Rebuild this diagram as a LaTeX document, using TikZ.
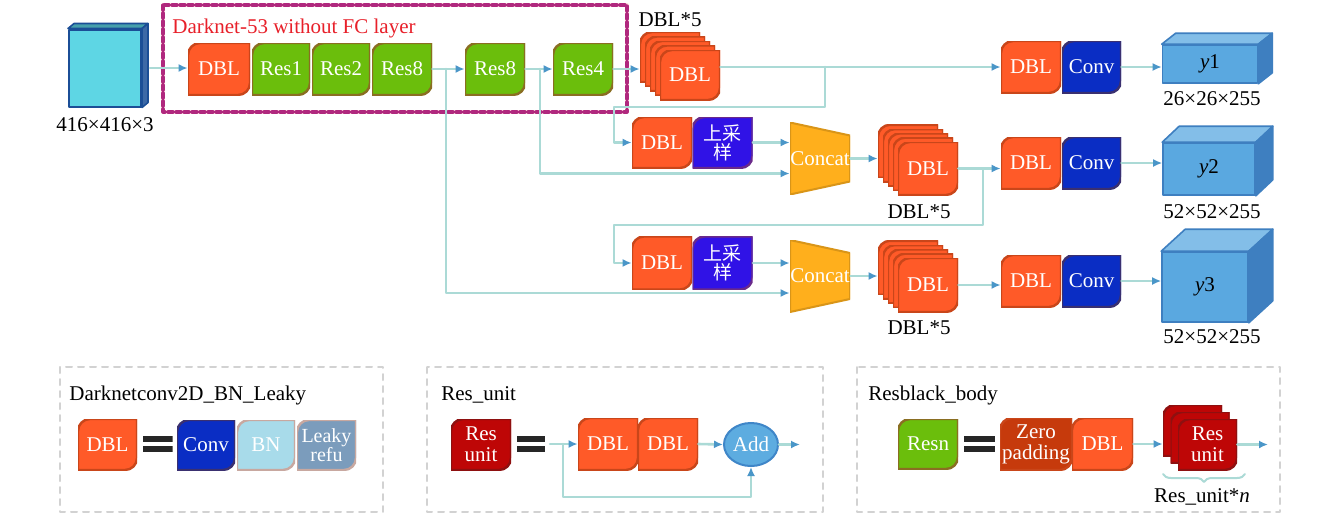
\documentclass[tikz,border=0pt]{standalone}
\usepackage{fontspec}
\setmainfont{Liberation Serif}
\newfontfamily\cjk{Noto Sans CJK SC}
\usetikzlibrary{arrows.meta, shapes.geometric, decorations.pathreplacing}

\definecolor{dblred}{HTML}{FF5A28}
\definecolor{dblline}{HTML}{C9461A}
\definecolor{resgreen}{HTML}{6BBE0C}
\definecolor{resline}{HTML}{8A6E22}
\definecolor{upblue}{HTML}{3012E6}
\definecolor{upline}{HTML}{6A2A8A}
\definecolor{convblue}{HTML}{0A2DC4}
\definecolor{convline}{HTML}{3A3070}
\definecolor{bnblue}{HTML}{A8DBEA}
\definecolor{leakyblue}{HTML}{7B9CBC}
\definecolor{softline}{HTML}{C8A8A0}
\definecolor{concatorange}{HTML}{FFAF1C}
\definecolor{unitred}{HTML}{BE0606}
\definecolor{unitline}{HTML}{8E1010}
\definecolor{zeropad}{HTML}{C63A0C}
\definecolor{linecol}{HTML}{ABDAD6}
\definecolor{tipcol}{HTML}{4A96C8}
\definecolor{framemag}{HTML}{B0287E}
\definecolor{titlered}{HTML}{E8202A}
\definecolor{addblue}{HTML}{5DACE0}
\definecolor{addline}{HTML}{3F86C8}
\definecolor{incyan}{HTML}{5ED6E4}
\definecolor{inline}{HTML}{1B4E96}
\definecolor{outblue}{HTML}{5AA8E0}
\definecolor{outline}{HTML}{3E7FC0}
\definecolor{legendgray}{HTML}{D2D2D2}

\tikzset{
  leaf/.style 2 args={rectangle, inner sep=0pt, text=white,
    path picture={\filldraw[fill=#1, draw=#2, line width=1.2pt]
      (path picture bounding box.south west)
      -- ([yshift=-6pt]path picture bounding box.north west)
      arc[start angle=180, end angle=90, radius=6pt]
      -- (path picture bounding box.north east)
      -- ([yshift=6pt]path picture bounding box.south east)
      arc[start angle=0, end angle=-90, radius=6pt] -- cycle;}},
  dblbox/.style={leaf={dblred}{dblline}, minimum width=30pt, minimum height=26pt},
  resbox/.style={leaf={resgreen}{resline}, minimum width=30pt, minimum height=26pt},
  convbox/.style={leaf={convblue}{convline}, minimum width=29.5pt, minimum height=26pt},
  upbox/.style={leaf={upblue}{upline}, minimum width=30pt, minimum height=26pt,
    align=center, font=\cjk\fontsize{9.5}{9.5}\selectfont},
  unitbox/.style={leaf={unitred}{unitline}, minimum width=29.5pt, minimum height=25.5pt,
    align=center, font=\fontsize{10.5}{10.5}\selectfont},
  concat/.style={rectangle, minimum width=30pt, minimum height=36pt, inner sep=0pt, text=white,
    path picture={\filldraw[fill=concatorange, draw=concatorange!85!black, line width=1pt]
      (path picture bounding box.south west) -- (path picture bounding box.north west)
      -- ([yshift=-6.5pt]path picture bounding box.north east)
      -- ([yshift=6.5pt]path picture bounding box.south east) -- cycle;}},
  eqsign/.style={rectangle, minimum width=15pt, minimum height=8pt, inner sep=0pt,
    path picture={\fill[black!85]
      ([yshift=-3pt]path picture bounding box.north west) rectangle (path picture bounding box.north east);
      \fill[black!85] (path picture bounding box.south west)
      rectangle ([yshift=3pt]path picture bounding box.south east);}},
  lbl/.style={text=black, inner sep=1pt},
  flow/.style={draw=linecol, line width=1.3pt, -{Latex[length=4.5pt, width=4pt, color=tipcol]}},
  legend/.style={draw=legendgray, line width=1pt, dashed},
}

% front face is the node, top and side are filled around it
\newcommand\cubefaces[6]{%
  \filldraw[fill=#4, draw=#6, line width=0.8pt] (#1.north west) -- ([shift={(#2,#3)}]#1.north west)
    -- ([shift={(#2,#3)}]#1.north east) -- (#1.north east) -- cycle;
  \filldraw[fill=#5, draw=#6, line width=0.8pt] (#1.north east) -- ([shift={(#2,#3)}]#1.north east)
    -- ([shift={(#2,#3)}]#1.south east) -- (#1.south east) -- cycle;}

\begin{document}
\begin{tikzpicture}[x=0.5pt, y=-0.5pt, line cap=round, line join=round,
    every node/.style={font=\fontsize{10.5}{11}\selectfont}]

    \useasboundingbox[fill=white] (0,0) rectangle (1339,515);

    % ── Input image ───────────────────────────────────────────────────────────
    \node[rectangle, fill=incyan, draw=inline, line width=1pt, minimum width=36pt,
        minimum height=38.5pt] (in) at (105,68) {};
    \cubefaces{in}{6}{-5}{incyan!75!black}{inline!85}{inline}
    \node[lbl] (inl) at (105,125) {416×416×3};

    % ── Darknet-53 frame ──────────────────────────────────────────────────────
    \draw[pink!55, line width=1.6pt] (163,5) rectangle (627,112);
    \draw[framemag, line width=1.6pt, dash pattern=on 2.5pt off 1.5pt] (163,5) rectangle (627,112);
    \node[lbl, anchor=west, text=titlered] (title) at (170,28) {Darknet-53 without FC layer};

    % ── Backbone row ──────────────────────────────────────────────────────────
    \node[dblbox, minimum width=31pt] (dbl0) at (219,69) {DBL};
    \node[resbox, minimum width=29pt] (r1) at (281,69) {Res1};
    \node[resbox, minimum width=29pt] (r2) at (341,69) {Res2};
    \node[resbox] (r8a) at (402,69) {Res8};
    \node[resbox] (r8b) at (495,69) {Res8};
    \node[resbox] (r4) at (583,69) {Res4};

    % DBL*5 stack, scale 1
    \foreach \k in {4,3,2,1}
        \node[dblbox, minimum height=25pt] (s1\k) at (690-5*\k, 75-4.5*\k) {};
    \node[dblbox, minimum height=25pt] (s1) at (690,75) {DBL};
    \node[lbl] (s1l) at (670,20) {DBL*5};

    \node[dblbox] (d1) at (1031,67) {DBL};
    \node[convbox] (cv1) at (1091.5,67) {Conv};
    \node[rectangle, fill=outblue, draw=outline, line width=0.8pt, minimum width=47.5pt,
        minimum height=19pt] (y1) at (1210,64) {\textit{y}1};
    \cubefaces{y1}{14}{-11}{outblue!75!white}{outline}{outline}
    \node[lbl] (y1l) at (1212,99) {26×26×255};

    % ── Scale 2 ───────────────────────────────────────────────────────────────
    \node[dblbox, minimum height=25.5pt] (up1) at (662,142.5) {DBL};
    \node[upbox, minimum height=25.5pt] (u1) at (722.5,142.5) {上采\\样};
    \node[concat] (c1) at (820,158.5) {Concat};
    \foreach \k in {4,3,2,1}
        \node[dblbox, minimum height=26.5pt] (s2\k) at (928-5*\k, 168.5-4.3*\k) {};
    \node[dblbox, minimum height=26.5pt] (s2) at (928,168.5) {DBL};
    \node[lbl] (s2l) at (919,212) {DBL*5};

    \node[dblbox] (d2) at (1031,163) {DBL};
    \node[convbox] (cv2) at (1091.5,163) {Conv};
    \node[rectangle, fill=outblue, draw=outline, line width=0.8pt, minimum width=46pt,
        minimum height=26pt] (y2) at (1209,169) {\textit{y}2};
    \cubefaces{y2}{17}{-16}{outblue!75!white}{outline}{outline}
    \node[lbl] (y2l) at (1212,212) {52×52×255};

    % ── Scale 3 ───────────────────────────────────────────────────────────────
    \node[dblbox, minimum height=26.5pt] (up2) at (662,263) {DBL};
    \node[upbox, minimum height=26.5pt] (u2) at (722.5,263) {上采\\样};
    \node[concat] (c2) at (820,276) {Concat};
    \foreach \k in {4,3,2,1}
        \node[dblbox, minimum height=27pt] (s3\k) at (928-5*\k, 285-4.3*\k) {};
    \node[dblbox, minimum height=27pt] (s3) at (928,285) {DBL};
    \node[lbl] (s3l) at (919,328) {DBL*5};

    \node[dblbox] (d3) at (1031,281) {DBL};
    \node[convbox] (cv3) at (1091.5,281) {Conv};
    \node[rectangle, fill=outblue, draw=outline, line width=0.8pt, minimum width=43pt,
        minimum height=35pt] (y3) at (1205,287) {\textit{y}3};
    \cubefaces{y3}{24}{-22}{outblue!75!white}{outline}{outline}
    \node[lbl] (y3l) at (1212,337) {52×52×255};

    % ── Connectors ────────────────────────────────────────────────────────────
    \coordinate (b1) at (825,67);
    \coordinate (b1t) at (614,107);
    \coordinate (b2) at (540,69);
    \coordinate (b3) at (446,69);
    \coordinate (b4) at (983,168.5);
    \coordinate (b4t) at (614,225);

    \draw[flow, shorten <=4pt] (in.east) -- (in.east -| dbl0.west);
    \draw[flow] (r8a.east) -- (r8b.west);
    \draw[flow] (r8b.east) -- (r4.west);
    \draw[flow] (r4.east) -- (r4.east -| s14.west);
    \draw[flow] (s1.east |- d1.west) -- (d1.west);
    \draw[flow] (cv1.east) -- (cv1.east -| y1.west);

    \draw[flow] (b1) |- (b1t) |- (up1.west);
    \draw[flow] (b2) |- ([yshift=-7.5pt]c1.west);
    \draw[flow] (b3) |- ([yshift=-8.5pt]c2.west);

    \draw[flow] (u1.east) -- (u1.east -| c1.west);
    \draw[flow] (c1.east) -- (c1.east -| s24.west);
    \draw[flow] (s2.east) -- (s2.east -| d2.west);
    \draw[flow] (cv2.east) -- (cv2.east -| y2.west);
    \draw[flow] (b4) |- (b4t) |- (up2.west);

    \draw[flow] (u2.east) -- (u2.east -| c2.west);
    \draw[flow] (c2.east) -- (c2.east -| s34.west);
    \draw[flow] (s3.east) -- (s3.east -| d3.west);
    \draw[flow] (cv3.east) -- (cv3.east -| y3.west);

    % ── Legend: DBL ───────────────────────────────────────────────────────────
    \draw[legend] (60,367) rectangle (383,512);
    \node[lbl, anchor=west] (lg1) at (67,395) {Darknetconv2D\_BN\_Leaky};
    \node[dblbox, minimum width=29.5pt, minimum height=25.5pt] (ldbl) at (107.5,444.5) {DBL};
    \node[eqsign] (eq1) at (157.5,444) {};
    \node[convbox, minimum width=29pt, minimum height=25pt] (lconv) at (206,445) {Conv};
    \node[leaf={bnblue}{softline}, minimum width=29pt, minimum height=25pt] (lbn) at (266,445) {BN};
    \node[leaf={leakyblue}{softline}, minimum width=29.5pt, minimum height=25pt, align=center,
        font=\fontsize{10}{9.5}\selectfont] (llk) at (326.5,445) {Leaky\\refu};

    % ── Legend: Res_unit ──────────────────────────────────────────────────────
    \draw[legend] (427,367) rectangle (823,512);
    \node[lbl, anchor=west] (lg2) at (439,395) {Res\_unit};
    \node[unitbox, minimum width=30pt] (lres) at (481,444.5) {Res\\unit};
    \node[eqsign, minimum width=14pt] (eq2) at (531,444) {};
    \node[dblbox] (dbla) at (608,444) {DBL};
    \node[dblbox] (dblb) at (668,444) {DBL};
    \node[ellipse, fill=addblue, draw=addline, line width=1pt, minimum width=27pt,
        minimum height=21.5pt, inner sep=0pt, text=white] (add) at (751,444.5) {Add};
    \coordinate (ri) at (550,444);
    \coordinate (rb) at (563,444);
    \coordinate (rk) at (600,497);
    \coordinate (ro) at (800,444.5);
    \draw[flow] (ri) -- (dbla.west);
    \draw[flow] (dblb.east) -- (add.west);
    \draw[flow] (add.east) -- (ro);
    \draw[flow] (rb) |- (rk) -| (add.south);

    % ── Legend: Resblack_body ─────────────────────────────────────────────────
    \draw[legend] (857,367) rectangle (1280,512);
    \node[lbl, anchor=west] (lg3) at (866,395) {Resblack\_body};
    \node[resbox, minimum height=25pt] (lresn) at (928,444) {Resn};
    \node[eqsign, minimum width=15.5pt] (eq3) at (979.5,444) {};
    \node[leaf={zeropad}{dblline}, minimum width=36pt, minimum height=26pt, align=center,
        font=\fontsize{10.5}{10.5}\selectfont] (zp) at (1036,444) {Zero\\padding};
    \node[dblbox, minimum width=30.5pt] (zd) at (1102.5,444) {DBL};
    \foreach \k in {2,1}
        \node[unitbox] (rs\k) at (1207.5-7.5*\k, 444.5-7*\k) {};
    \node[unitbox] (rs) at (1207.5,444.5) {Res\\unit};
    \coordinate (rso) at (1268,440);
    \draw[flow] (zd.east) -- (zd.east -| rs2.west);
    \draw[flow] (rs.east) -- (rs.east -| rso);
    \coordinate (brl) at (1163,474);
    \coordinate (brr) at (1245,474);
    \draw[linecol, line width=1pt, decorate, decoration={brace, mirror, amplitude=4pt}] (brl) -- (brr);
    \node[lbl] (rsl) at (1202,497) {Res\_unit*\textit{n}};

\end{tikzpicture}
\end{document}
